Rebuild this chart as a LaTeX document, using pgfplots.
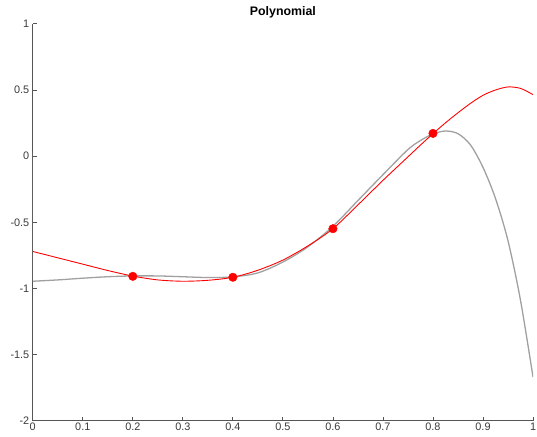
\documentclass[border=0pt]{standalone}
\usepackage{pgfplots}
\pgfplotsset{compat=1.18}
\usetikzlibrary{calc}
\usepackage{fontspec}
\setmainfont{Liberation Sans}
\definecolor{axgray}{HTML}{555555}
\definecolor{lblgray}{HTML}{3A3A3A}
\definecolor{curvegray}{HTML}{A0A0A0}
\definecolor{mred}{HTML}{FF0000}
\begin{document}
\begin{tikzpicture}[x=1bp,y=1bp]
\begin{axis}[
  scale only axis,
  width=504bp, height=400bp,
  xmin=0, xmax=1, ymin=-2, ymax=1,
  axis x line=bottom, axis y line=left,
  axis line style={-, color=axgray, line width=0.8bp},
  tick align=inside,
  major tick length=4bp,
  tick style={color=axgray, line width=0.8bp},
  xtick={0,0.1,0.2,0.3,0.4,0.5,0.6,0.7,0.8,0.9,1},
  xticklabels={0,0.1,0.2,0.3,0.4,0.5,0.6,0.7,0.8,0.9,1},
  ytick={-2,-1.5,-1,-0.5,0,0.5,1},
  yticklabels={-2,-1.5,-1,-0.5,0,0.5,1},
  ticklabel style={font=\fontsize{11}{13}\selectfont, text=lblgray},
  xticklabel style={yshift=1bp},
  yticklabel style={xshift=0bp},
  title={\textbf{Polynomial}},
  title style={font=\fontsize{12.5}{14}\selectfont, yshift=-4bp},
  clip=true,
]
\coordinate (bl) at (rel axis cs:0,0);
\coordinate (tr) at (rel axis cs:1,1);
\addplot[color=curvegray, line width=1.3bp] coordinates {
(0,0.03) (0,-0.945)
};
\addplot[color=curvegray, line width=1.3bp, smooth] coordinates {
(0,-0.945) (0.05,-0.935) (0.1,-0.922) (0.15,-0.911) (0.2,-0.905)
(0.25,-0.905) (0.3,-0.911) (0.35,-0.917) (0.4,-0.912) (0.45,-0.882)
(0.5,-0.80) (0.55,-0.685) (0.6,-0.53) (0.65,-0.335) (0.7,-0.14)
(0.75,0.05) (0.775,0.118) (0.8,0.168) (0.825,0.19) (0.85,0.17) (0.875,0.085)
(0.9,-0.085) (0.925,-0.32) (0.95,-0.64) (0.975,-1.09) (1.0,-1.67)
};
\addplot[color=mred, line width=0.9bp, smooth] coordinates {
(0,-0.72) (0.05,-0.768) (0.1,-0.816) (0.15,-0.864) (0.2,-0.906)
(0.25,-0.935) (0.3,-0.945) (0.35,-0.938) (0.4,-0.915) (0.45,-0.862)
(0.5,-0.785) (0.55,-0.678) (0.6,-0.548) (0.65,-0.368) (0.7,-0.183)
(0.75,-0.005) (0.775,0.084) (0.8,0.17) (0.825,0.252) (0.85,0.328)
(0.875,0.399) (0.9,0.46) (0.925,0.50) (0.95,0.523) (0.975,0.512) (1.0,0.465)
};
\addplot[only marks, mark=*, mark size=4.3bp, color=mred, mark options={fill=mred, draw=mred}] coordinates {
(0.2,-0.908) (0.4,-0.915) (0.6,-0.548) (0.8,0.172)
};
\end{axis}
\pgfresetboundingbox
\path[use as bounding box] ($(bl)+(-33bp,-16bp)$) rectangle ($(tr)+(4bp,24bp)$);
\end{tikzpicture}
\end{document}
